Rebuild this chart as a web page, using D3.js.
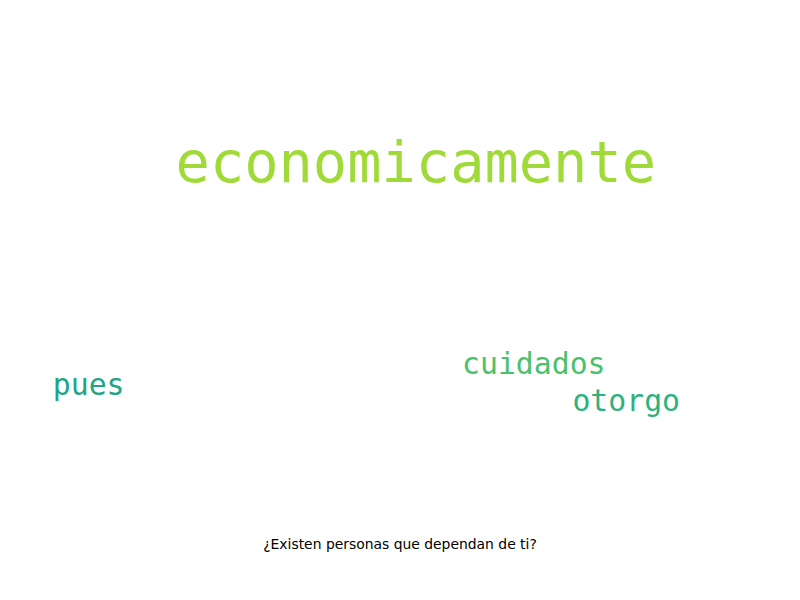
<!DOCTYPE html>
<html>
<head>
<meta charset="utf-8">
<script src="https://cdn.jsdelivr.net/npm/d3@7"></script>
<style>
  html, body { margin: 0; padding: 0; background: #ffffff; }
  svg { display: block; }
</style>
</head>
<body>
<svg id="chart" width="800" height="600"></svg>
<script>
// ---- data ----
const words   = ["economicamente", "cuidados", "otorgo", "pues"];
const weights = [2, 1, 1, 1];
const colors  = ["#a0da39", "#4ac16d", "#2db27d", "#21a486"];
// word-cloud layout result: left edge / baseline as fractions of the cloud canvas
const layoutX = [0.2195, 0.5775, 0.7155, 0.066];
const layoutY = [0.304, 0.6235, 0.685, 0.659];
const title = "¿Existen personas que dependan de ti?";

const W = 800, H = 600;
const svg = d3.select("#chart");

const x = d3.scaleLinear().domain([0, 1]).range([0, W]);
const y = d3.scaleLinear().domain([0, 1]).range([0, H]);
const size = d3.scaleLinear().domain([1, 2]).range([29.8, 57]);

const data = words.map((w, i) => ({ text: w, weight: weights[i], color: colors[i], lx: layoutX[i], ly: layoutY[i] }));

svg.append("g")
  .selectAll("text")
  .data(data)
  .join("text")
  .attr("x", d => x(d.lx))
  .attr("y", d => y(d.ly))
  .attr("text-anchor", "start")
  .style("font-family", "'DejaVu Sans Mono', monospace")
  .style("font-size", d => size(d.weight) + "px")
  .style("fill", d => d.color)
  .text(d => d.text);

svg.append("text")
  .attr("x", W / 2)
  .attr("y", 549)
  .attr("text-anchor", "middle")
  .style("font-family", "'DejaVu Sans', sans-serif")
  .style("font-size", "13.9px")
  .style("fill", "#000")
  .text(title);
</script>
</body>
</html>
